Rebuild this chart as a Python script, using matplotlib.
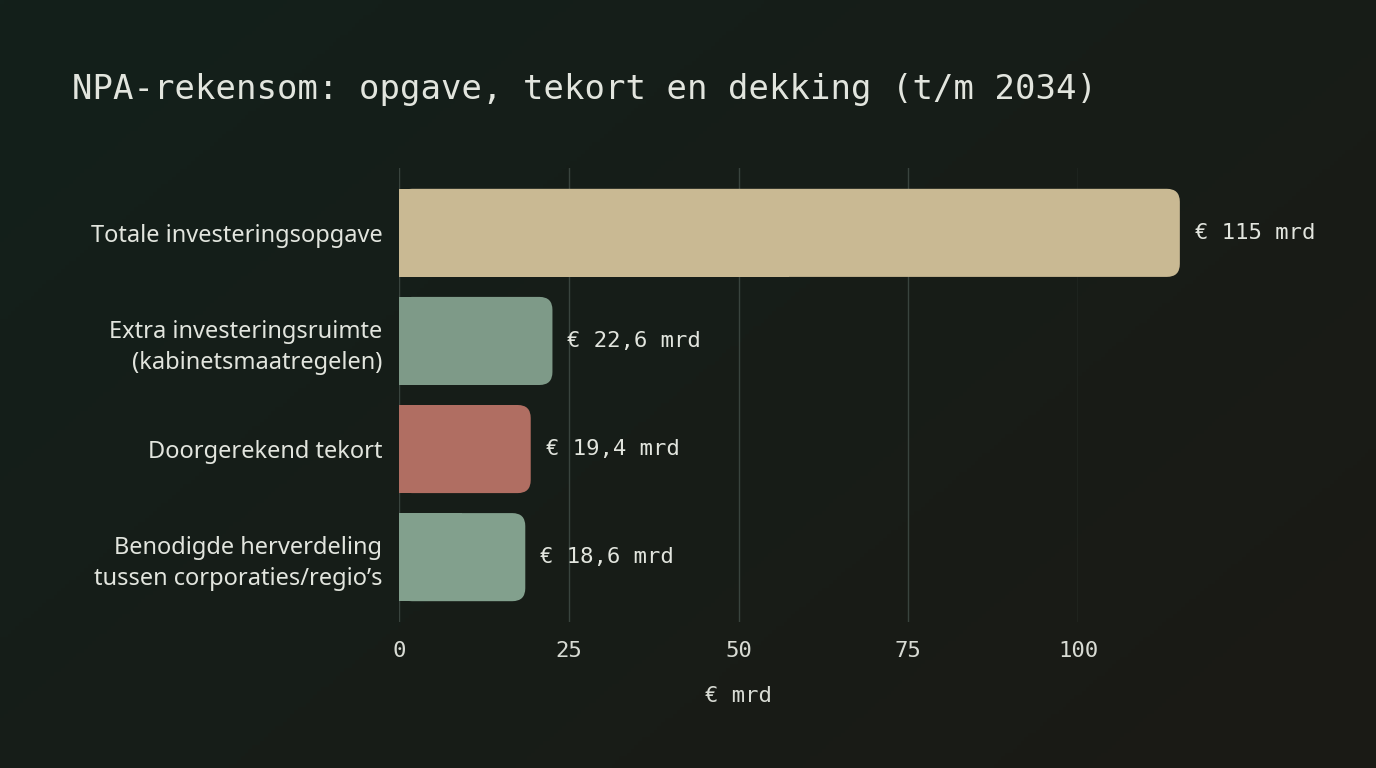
import numpy as np
import matplotlib
matplotlib.use("Agg")
import matplotlib.pyplot as plt
from matplotlib.patches import FancyBboxPatch, Rectangle

categories = ["Totale investeringsopgave",
              "Extra investeringsruimte\n(kabinetsmaatregelen)",
              "Doorgerekend tekort",
              "Benodigde herverdeling\ntussen corporaties/regio\u2019s"]
values = [115, 22.6, 19.4, 18.6]
value_labels = ["\u20ac 115 mrd", "\u20ac 22,6 mrd", "\u20ac 19,4 mrd", "\u20ac 18,6 mrd"]
bar_colors = ["#c9b993", "#7e9a88", "#b06e62", "#82a08d"]
xticks = [0, 25, 50, 75, 100]
title = "NPA-rekensom: opgave, tekort en dekking (t/m 2034)"
xlabel = "\u20ac mrd"

W, H = 1376, 768
fig = plt.figure(figsize=(W / 100, H / 100), dpi=100)

# background gradient
bg = fig.add_axes([0, 0, 1, 1], zorder=-10)
bg.axis("off")
yy, xx = np.mgrid[0:1:200j, 0:1:360j]
t = np.clip((xx * 0.6 + yy * 0.4), 0, 1)
c0 = np.array([0x13, 0x20, 0x1b]) / 255
c1 = np.array([0x1b, 0x1a, 0x15]) / 255
img = c0[None, None, :] * (1 - t[..., None]) + c1[None, None, :] * t[..., None]
bg.imshow(img, aspect="auto", extent=[0, 1, 0, 1], origin="upper")

mono = ["DejaVu Sans Mono"]
sans = ["Noto Sans", "DejaVu Sans"]
txt = "#e2e5de"

ax = fig.add_axes([399 / W, 1 - 622 / H, 679 / W, 454 / H])
ax.set_facecolor("none")
ax.set_xlim(0, 100)
ax.set_ylim(3.6, -0.6)
for s in ax.spines.values():
    s.set_visible(False)

for x in xticks:
    ax.axvline(x, color="#39443e", lw=1.0, zorder=0)

ax.set_xticks(xticks)
ax.set_xticklabels([str(x) for x in xticks], fontfamily=mono, fontsize=16, color="#d8dbd4")
ax.tick_params(axis="x", length=0, pad=14)
ax.set_yticks(range(len(categories)))
ax.set_yticklabels(categories, fontfamily=sans, fontsize=17, color=txt, linespacing=1.4)
ax.tick_params(axis="y", length=0, pad=12)
ax.set_xlabel(xlabel, fontfamily=mono, fontsize=16, color="#d8dbd4", labelpad=18)

# pixel scale for rounded corners
px_per_x = ax.transData.transform((1, 0))[0] - ax.transData.transform((0, 0))[0]
px_per_y = abs(ax.transData.transform((0, 1))[1] - ax.transData.transform((0, 0))[1])
r_px = 13
r_x = r_px / px_per_x
aspect = px_per_x / px_per_y

h = 0.815
for i, (v, c, lab) in enumerate(zip(values, bar_colors, value_labels)):
    y0 = i - h / 2
    p = FancyBboxPatch((0, y0), v, h, boxstyle=f"round,pad=0,rounding_size={r_x}",
                       mutation_aspect=aspect, fc=c, ec="none", clip_on=False, zorder=2)
    ax.add_patch(p)
    ax.add_patch(Rectangle((0, y0), v / 2, h, fc=c, ec="none", clip_on=False, zorder=2))
    ax.text(v + 15 / px_per_x, i, lab, fontfamily=mono, fontsize=16, color=txt,
            va="center", ha="left", clip_on=False, zorder=3)

fig.text(72 / W, 1 - 90 / H, title, fontfamily=mono, fontsize=24.5, color=txt,
         va="center", ha="left")

fig.savefig("out.png", dpi=100, facecolor="#161d19")
